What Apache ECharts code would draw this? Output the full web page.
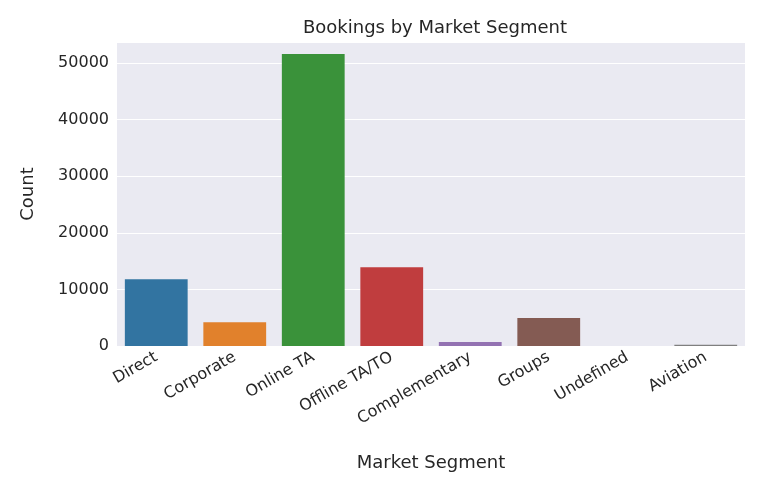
<!DOCTYPE html>
<html>
<head>
<meta charset="utf-8">
<script src="https://cdn.jsdelivr.net/npm/echarts@6/dist/echarts.min.js"></script>
<style>html,body{margin:0;background:#fff;}</style>
</head>
<body>
<div id="main" style="width:776px;height:489px;"></div>
<script>
// values
var segments = ['Direct', 'Corporate', 'Online TA', 'Offline TA/TO', 'Complementary', 'Groups', 'Undefined', 'Aviation'];
var counts = [11800, 4200, 51600, 13900, 700, 4950, 2, 230];
var colors = ['#3274a1', '#e1812c', '#3a923a', '#c03d3e', '#9372b2', '#845b53', '#d684bd', '#7f7f7f'];

var myChart = echarts.init(document.getElementById('main'));
var option = {
	textStyle: { fontFamily: 'DejaVu Sans' },
	title: {
		text: 'Bookings by Market Segment', left: 430, top: 14, textAlign: 'center',
		textStyle: { fontSize: 18, fontWeight: 'normal', color: '#262626' }
	},
	grid: { left: 117, right: 31, top: 42, bottom: 143, backgroundColor: '#eaeaf2', show: true, borderWidth: 0 },
	xAxis: {
		type: 'category', data: segments,
		name: 'Market Segment', nameLocation: 'middle', nameGap: 108,
		nameTextStyle: { fontSize: 18, color: '#262626' },
		axisLine: { show: false }, axisTick: { show: false },
		axisLabel: { rotate: 30, fontSize: 16, color: '#262626', margin: 10 }
	},
	yAxis: {
		type: 'value', min: 0, max: 53700, interval: 10000,
		name: 'Count', nameLocation: 'middle', nameGap: 80,
		nameTextStyle: { fontSize: 18, color: '#262626' },
		axisLabel: { fontSize: 16, color: '#262626', showMaxLabel: false, formatter: function (v) { return String(v); } },
		splitLine: { lineStyle: { color: '#ffffff', width: 1 } }
	},
	series: [{
		type: 'bar', barCategoryGap: '20%',
		data: counts.map(function (v, i) { return { value: v, itemStyle: { color: colors[i] } }; })
	}]
};
myChart.setOption(option);
</script>
</body>
</html>
